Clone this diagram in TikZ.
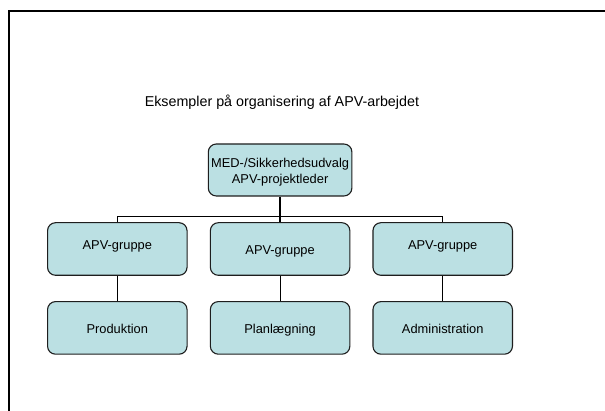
\documentclass[tikz,border=0pt]{standalone}
\usepackage{fontspec}
\setmainfont{Liberation Sans}
\definecolor{boxfill}{RGB}{187,224,227}
\definecolor{boxline}{RGB}{30,30,30}
\begin{document}
\begin{tikzpicture}[x=1pt,y=-1pt,
  orgbox/.style={draw=boxline,line width=1.1pt,fill=boxfill,rounded corners=8pt,
    minimum width=139.5pt,minimum height=52.6pt,inner sep=0pt,
    font=\fontsize{12.85}{15.6}\selectfont,text height=10.5pt,text depth=0pt},
  topbox/.style={orgbox,minimum width=143.6pt,minimum height=52pt,align=center,
    text height=29.3pt,text depth=2.7pt},
  conn/.style={draw=black,line width=1pt},
  title/.style={font=\fontsize{14.3}{17}\selectfont,anchor=base,inner sep=0pt}]
\useasboundingbox (0,0) rectangle (605,411);
\fill[white] (0,0) rectangle (605,411);
\draw[line width=2pt] (9.3,412) -- (9.3,11.5) -- (606,11.5);
\node[title] (t) at (281.9,106.7) {Eksempler på organisering af APV-arbejdet};
\node[topbox] (top) at (280.1,170) {MED-/Sikkerhedsudvalg\\APV-projektleder};
\node[orgbox] (m1) at (117.3,249) {\raisebox{4.8pt}[\height][\depth]{APV-gruppe}};
\node[orgbox] (m2) at (280.1,249) {APV-gruppe};
\node[orgbox] (m3) at (442.7,249) {\raisebox{4.8pt}[\height][\depth]{APV-gruppe}};
\node[orgbox] (b1) at (117.3,327.9) {Produktion};
\node[orgbox] (b2) at (280.1,327.9) {Planlægning};
\node[orgbox] (b3) at (442.7,327.9) {Administration};
\coordinate (bus) at (280.1,216.7);
\draw[conn,line width=1.8pt] (top.south) -- (m2.north);
\draw[conn] (m1.north) -- (m1.north |- bus) -- (m3.north |- bus) -- (m3.north);
\draw[conn] (m1.south) -- (b1.north);
\draw[conn] (m2.south) -- (b2.north);
\draw[conn] (m3.south) -- (b3.north);
\end{tikzpicture}
\end{document}
